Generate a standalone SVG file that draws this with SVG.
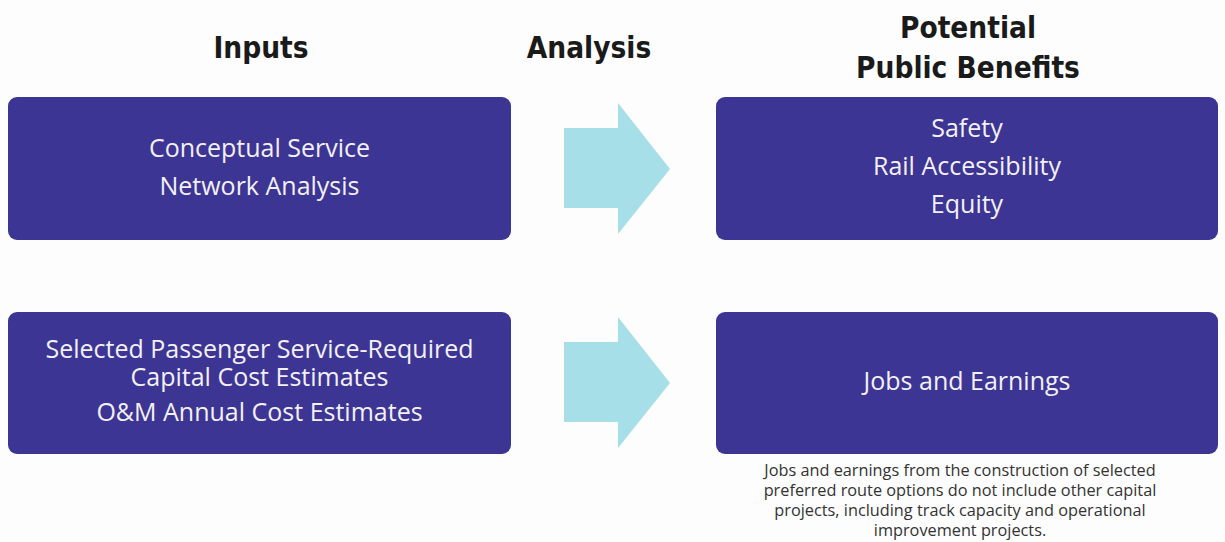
<svg xmlns="http://www.w3.org/2000/svg" width="1225" height="542" viewBox="0 0 1225 542">
<style>
.box{fill:#3d3593}
.arrow{fill:#a7dfe9}
.h{font-family:"DejaVu Sans Condensed","DejaVu Sans",sans-serif;font-weight:bold;font-size:29.5px;fill:#1a1a1a;text-anchor:middle}
.t{font-family:"Open Sans",sans-serif;font-size:25px;fill:#f2f0f8;text-anchor:middle}
.n{font-family:"Open Sans",sans-serif;font-size:16.3px;fill:#333;text-anchor:middle}
</style>
<rect width="1225" height="542" fill="#fdfdfd"/>
<g id="headings">
<text class="h" x="261" y="58">Inputs</text>
<text class="h" x="589" y="58">Analysis</text>
<text class="h" x="968" y="38">Potential</text>
<text class="h" x="968" y="78">Public Benefits</text>
</g>
<g id="input1">
<rect class="box" x="8" y="97" width="503" height="143" rx="9"/>
<text class="t" x="259.5" y="157">Conceptual Service</text>
<text class="t" x="259.5" y="195">Network Analysis</text>
</g>
<g id="input2">
<rect class="box" x="8" y="312" width="503" height="142" rx="9"/>
<text class="t" x="259.5" y="358">Selected Passenger Service-Required</text>
<text class="t" x="259.5" y="386">Capital Cost Estimates</text>
<text class="t" x="259.5" y="421">O&amp;M Annual Cost Estimates</text>
</g>
<g id="benefit1">
<rect class="box" x="716" y="97" width="502" height="143" rx="9"/>
<text class="t" x="967" y="137">Safety</text>
<text class="t" x="967" y="175">Rail Accessibility</text>
<text class="t" x="967" y="213">Equity</text>
</g>
<g id="benefit2">
<rect class="box" x="716" y="312" width="502" height="142" rx="9"/>
<text class="t" x="967" y="390">Jobs and Earnings</text>
</g>
<g id="connectors">
<polygon class="arrow" points="564,128 618,128 618,103 670,169 618,234 618,208 564,208"/>
<polygon class="arrow" points="564,342 618,342 618,317 670,383 618,448 618,422 564,422"/>
</g>
<g id="note">
<text class="n" x="960" y="476">Jobs and earnings from the construction of selected</text>
<text class="n" x="960" y="496">preferred route options do not include other capital</text>
<text class="n" x="960" y="516">projects, including track capacity and operational</text>
<text class="n" x="960" y="536">improvement projects.</text>
</g>
</svg>
